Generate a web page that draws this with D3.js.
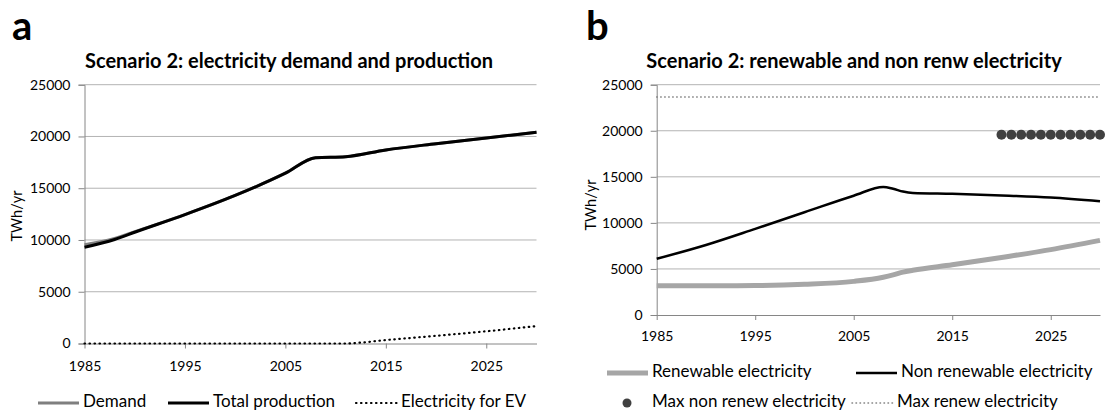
<!DOCTYPE html>
<html>
<head>
<meta charset="utf-8">
<script src="https://cdn.jsdelivr.net/npm/d3@7"></script>
<style>
  body { margin: 0; background: #fff; }
  svg { font-family: Lato, "Open Sans", sans-serif; }
</style>
</head>
<body>
<div id="app"></div>
<script>
// ---- data ----
const xTicks = [1985, 1995, 2005, 2015, 2025];
const yTicks = [0, 5000, 10000, 15000, 20000, 25000];

// panel a
const yearsA = [1985, 1988, 1990, 1995, 2000, 2005, 2008, 2011, 2015, 2020, 2025, 2030];
const demand = [9550, 10150, 10800, 12450, 14300, 16450, 17950, 18050, 18700, 19300, 19850, 20400];
const totalProduction = [9300, 10050, 10750, 12450, 14300, 16450, 17950, 18050, 18700, 19300, 19850, 20400];
const evYears = [1985, 2011, 2012, 2015, 2020, 2025, 2030];
const evElectricity = [0, 0, 50, 330, 740, 1180, 1680];

// panel b
const yearsB = [1985, 1990, 1995, 2000, 2005, 2008, 2009, 2010, 2011, 2015, 2020, 2025, 2030];
const renewable = [3180, 3180, 3200, 3330, 3650, 4100, 4350, 4650, 4850, 5450, 6250, 7100, 8100];
const nonRenewable = [6100, 7600, 9350, 11150, 12950, 13900, 13700, 13400, 13250, 13150, 12980, 12750, 12350];
const maxNonRenewYears = [2020, 2021, 2022, 2023, 2024, 2025, 2026, 2027, 2028, 2029, 2030];
const maxNonRenew = [19570, 19570, 19570, 19570, 19570, 19570, 19570, 19570, 19570, 19570, 19570];
const maxRenewYears = [1985, 2030];
const maxRenew = [23660, 23660];

const width = 1105, height = 414;
const svg = d3.select("#app").append("svg").attr("width", width).attr("height", height);

function drawPanel(opt) {
  const x = d3.scaleLinear().domain([1985, 2030]).range([opt.left, opt.right]);
  const y = d3.scaleLinear().domain([0, 25000]).range([opt.bottom, opt.top]);
  const g = svg.append("g");

  // gridlines
  g.selectAll(".grid").data(yTicks.slice(1)).enter().append("line")
    .attr("x1", opt.left).attr("x2", opt.right)
    .attr("y1", d => y(d)).attr("y2", d => y(d))
    .attr("stroke", "#b3b3b3").attr("stroke-width", 1);

  // y axis
  const yAxis = g.append("g").attr("transform", `translate(${opt.left},0)`)
    .call(d3.axisLeft(y).tickValues(yTicks).tickSize(6).tickPadding(8).tickFormat(d3.format("d")));
  yAxis.select(".domain").attr("stroke", "#868686");
  yAxis.selectAll(".tick line").attr("stroke", "#868686");
  yAxis.selectAll("text").attr("font-size", 14).attr("fill", "#000").attr("font-family", "Lato, sans-serif");

  // x axis
  const xAxis = g.append("g").attr("transform", `translate(0,${opt.bottom})`)
    .call(d3.axisBottom(x).tickValues(xTicks).tickSize(5).tickSizeOuter(0).tickPadding(opt.xPad).tickFormat(d3.format("d")));
  xAxis.select(".domain").attr("stroke", "#868686");
  xAxis.selectAll(".tick line").attr("stroke", "#868686");
  xAxis.selectAll("text").attr("font-size", 14).attr("fill", "#000").attr("font-family", "Lato, sans-serif");

  // axis title
  g.append("text")
    .attr("transform", `translate(${opt.yTitleX},${opt.yTitleY}) rotate(-90)`)
    .attr("text-anchor", "middle").attr("dominant-baseline", "middle")
    .attr("font-size", 14.5).text("TWh/yr");

  // chart title
  g.append("text").attr("x", opt.titleX).attr("y", 68)
    .attr("text-anchor", "middle").attr("font-weight", "bold")
    .attr("font-size", 20).text(opt.title);

  // panel letter
  g.append("text").attr("x", opt.letterX).attr("y", 40)
    .attr("font-weight", "bold").attr("font-size", 40).text(opt.letter);

  return { g, x, y };
}

function addLine(p, xs, ys, stroke, w, dash, curve) {
  const line = d3.line().x(d => p.x(d[0])).y(d => p.y(d[1])).curve(curve || d3.curveMonotoneX);
  p.g.append("path").datum(xs.map((v, i) => [v, ys[i]]))
    .attr("d", line).attr("fill", "none").attr("stroke", stroke)
    .attr("stroke-width", w).attr("stroke-dasharray", dash || null)
    .attr("stroke-linecap", dash ? "round" : "butt").attr("stroke-linejoin", "round");
}

function legendItem(xPos, yPos, type, style, label) {
  const g = svg.append("g");
  if (type === "line") {
    g.append("line").attr("x1", xPos).attr("x2", xPos + 41).attr("y1", yPos).attr("y2", yPos)
      .attr("stroke", style.stroke).attr("stroke-width", style.width)
      .attr("stroke-dasharray", style.dash || null).attr("stroke-linecap", style.dash ? "round" : "butt");
  } else {
    g.append("circle").attr("cx", xPos + 20).attr("cy", yPos).attr("r", 4.5).attr("fill", "#404040");
  }
  g.append("text").attr("x", xPos + 45).attr("y", yPos).attr("dominant-baseline", "middle")
    .attr("font-size", 17).text(label);
}

// ---- panel a ----
const pa = drawPanel({
  left: 84.5, right: 536.5, top: 84.7, bottom: 343.5, xPad: 13,
  yTitleX: 18, yTitleY: 216, titleX: 289, letterX: 12, letter: "a",
  title: "Scenario 2: electricity demand and production"
});
addLine(pa, yearsA, demand, "#7f7f7f", 3);
addLine(pa, yearsA, totalProduction, "#000", 3);
addLine(pa, evYears, evElectricity, "#000", 2.2, "0.5,4.5");

legendItem(38, 403, "line", { stroke: "#7f7f7f", width: 3 }, "Demand");
legendItem(168, 403, "line", { stroke: "#000", width: 3 }, "Total production");
legendItem(356, 403, "line", { stroke: "#000", width: 2.2, dash: "0.5,4.5" }, "Electricity for EV");

// ---- panel b ----
const pb = drawPanel({
  left: 656.7, right: 1100, top: 84.7, bottom: 315, xPad: 11,
  yTitleX: 592, yTitleY: 205, titleX: 854, letterX: 586, letter: "b",
  title: "Scenario 2: renewable and non renw electricity"
});
addLine(pb, maxRenewYears, maxRenew, "#808080", 1.5, "0.5,3.5", d3.curveLinear);
addLine(pb, yearsB, renewable, "#a6a6a6", 5);
addLine(pb, yearsB, nonRenewable, "#000", 2.5);
pb.g.selectAll(".dot").data(maxNonRenewYears.map((v, i) => [v, maxNonRenew[i]])).enter()
  .append("circle").attr("cx", d => pb.x(d[0])).attr("cy", d => pb.y(d[1]))
  .attr("r", 5).attr("fill", "#404040");

legendItem(607, 373, "line", { stroke: "#a6a6a6", width: 5 }, "Renewable electricity");
legendItem(856, 373, "line", { stroke: "#000", width: 2.5 }, "Non renewable electricity");
legendItem(607, 403, "dot", {}, "Max non renew electricity");
legendItem(852, 403, "line", { stroke: "#808080", width: 1.5, dash: "0.5,3.5" }, "Max renew electricity");
</script>
</body>
</html>
